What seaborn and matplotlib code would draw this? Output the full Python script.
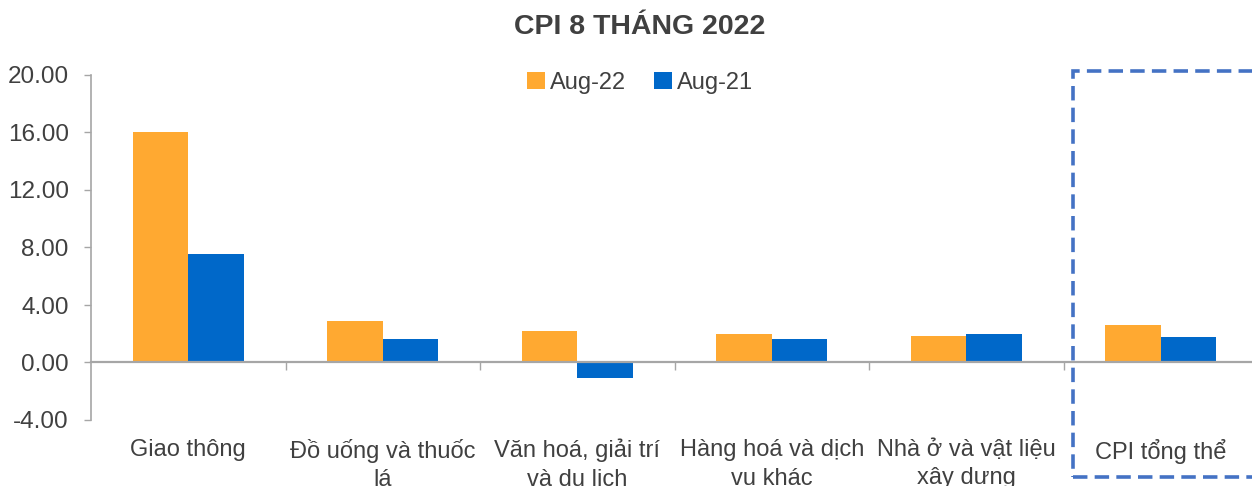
import matplotlib
matplotlib.use("Agg")
import matplotlib.pyplot as plt
import seaborn as sns
import pandas as pd
from matplotlib.patches import Rectangle
from matplotlib.ticker import FormatStrFormatter, FixedLocator

categories = ["Giao thông", "Đồ uống và thuốc\nlá", "Văn hoá, giải trí\nvà du lịch",
              "Hàng hoá và dịch\nvụ khác", "Nhà ở và vật liệu\nxây dựng", "CPI tổng thể"]
aug22 = [16.04, 2.92, 2.22, 2.01, 1.83, 2.59]
aug21 = [7.57, 1.62, -1.11, 1.60, 1.99, 1.80]
series = ["Aug-22", "Aug-21"]
colors = ["#FFA931", "#0068C9"]
yticks = [-4, 0, 4, 8, 12, 16, 20]

df = pd.DataFrame({
    "cat": categories * 2,
    "val": aug22 + aug21,
    "series": [series[0]] * len(categories) + [series[1]] * len(categories),
})

sns.set_theme(style="white")
plt.rcParams["font.family"] = ["Liberation Sans", "DejaVu Sans"]
TXT = "#404040"
GRAY = "#A6A6A6"

fig = plt.figure(figsize=(12.52, 4.86), dpi=100)
ax = fig.add_axes([91 / 1252, 1 - 420 / 486, 1167 / 1252, 345 / 486])

sns.barplot(data=df, x="cat", y="val", hue="series", palette=colors, saturation=1,
            width=0.57, gap=0, linewidth=0, ax=ax, legend=True)

ax.set_xlim(-0.5, len(categories) - 0.5)
ax.set_ylim(-4, 20)
ax.set_yticks(yticks)
ax.yaxis.set_major_formatter(FormatStrFormatter("%.2f"))
ax.set_xlabel("")
ax.set_ylabel("")

for s in ["top", "right"]:
    ax.spines[s].set_visible(False)
ax.spines["left"].set_color(GRAY)
ax.spines["left"].set_linewidth(1.2)
ax.spines["bottom"].set_position(("data", 0))
ax.spines["bottom"].set_color(GRAY)
ax.spines["bottom"].set_linewidth(1.6)

ax.tick_params(axis="y", which="major", left=True, length=5, width=1, color=GRAY,
               labelsize=17.5, labelcolor=TXT, pad=11)
ax.tick_params(axis="x", which="major", bottom=False, length=0, labelsize=17,
               labelcolor=TXT, pad=55)
ax.xaxis.set_minor_locator(FixedLocator([i + 0.5 for i in range(len(categories) - 1)]))
ax.tick_params(axis="x", which="minor", bottom=True, length=6, width=1, color=GRAY, direction="out")
for lab in ax.get_xticklabels():
    lab.set_linespacing(1.38)

leg = ax.legend(loc="center", bbox_to_anchor=(640 / 1252, 1 - 83 / 486),
                bbox_transform=fig.transFigure, ncol=2, frameon=False, fontsize=17,
                handlelength=0.75, handleheight=0.75, handletextpad=0.2, columnspacing=1.2)
for t in leg.get_texts():
    t.set_color(TXT)

fig.text(640 / 1252, 1 - 27 / 486, "CPI 8 THÁNG 2022", ha="center", va="center",
         fontsize=20.5, fontweight="bold", color=TXT)

rect = Rectangle((1073 / 1252, 1 - 477 / 486), 0.2, (477 - 71) / 486,
                 transform=fig.transFigure, fill=False, edgecolor="#4472C4",
                 linewidth=2.6, linestyle=(0, (4, 2)), clip_on=False)
fig.patches.append(rect)

fig.savefig("out.png", dpi=100)
